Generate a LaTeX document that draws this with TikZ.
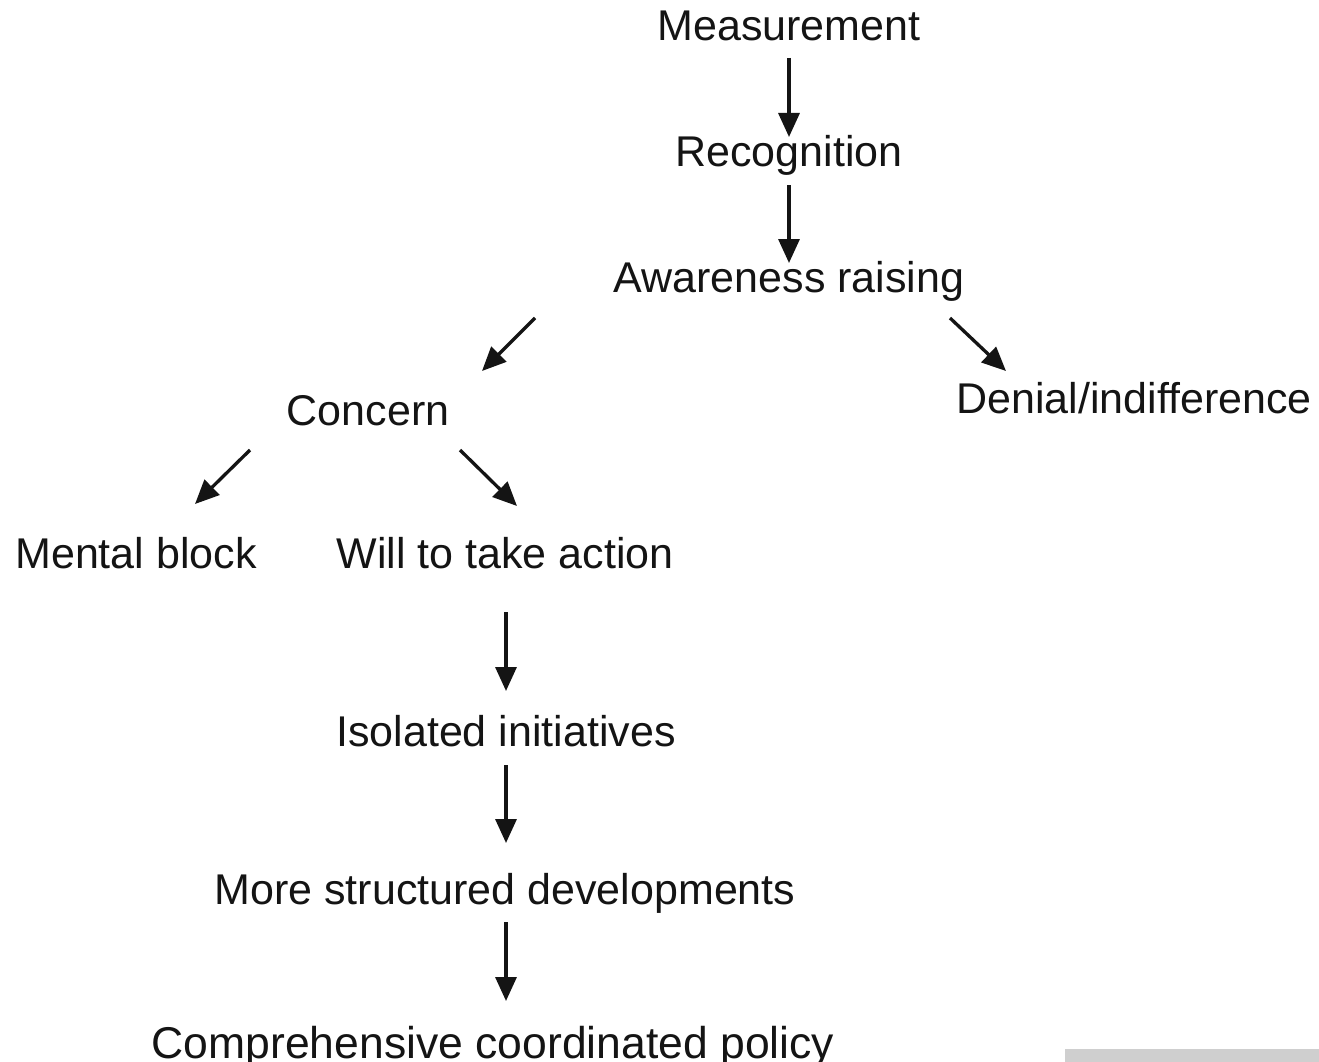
\documentclass[tikz,border=0pt]{standalone}
\usepackage{fontspec}
\setmainfont{Liberation Sans}
\usetikzlibrary{arrows.meta}
\begin{document}
\begin{tikzpicture}[x=1pt,y=-1pt,
  lbl/.style={anchor=base,inner sep=0pt,text=black!92,font=\fontsize{43}{50}\selectfont},
  arr/.style={draw=black!92,line width=3.3pt,-{Triangle[length=24pt,width=21pt]}}]
\useasboundingbox (0,0) rectangle (1319,1062);
\fill[white] (0,0) rectangle (1319,1062);

% stages of the process
\node[lbl] (meas) at (789,41) {Measurement};
\node[lbl] (reco) at (789,166) {Recognition};
\node[lbl] (aware) at (789,292) {Awareness raising};
\node[lbl] (conc) at (368,425) {Concern};
\node[lbl] (deny) at (1134,413) {Denial/indifference};
\node[lbl] (block) at (136,568) {Mental block};
\node[lbl] (will) at (505,568) {Will to take action};
\node[lbl] (isol) at (506,746) {Isolated initiatives};
\node[lbl] (struct) at (505,904) {More structured developments};
\node[lbl] (comp) at (493,1058) {\fontsize{44.5}{50}\selectfont Comprehensive coordinated policy};

% arrow end points
\coordinate (a1s) at (789,58);  \coordinate (a1e) at (789,137);
\coordinate (a2s) at (789,185); \coordinate (a2e) at (789,263);
\coordinate (a3s) at (535,318); \coordinate (a3e) at (482,371);
\coordinate (a4s) at (950,318); \coordinate (a4e) at (1006,371);
\coordinate (a5s) at (250,450); \coordinate (a5e) at (195,504);
\coordinate (a6s) at (460,450); \coordinate (a6e) at (517,506);
\coordinate (a7s) at (506,612); \coordinate (a7e) at (506,691);
\coordinate (a8s) at (506,765); \coordinate (a8e) at (506,843);
\coordinate (a9s) at (506,922); \coordinate (a9e) at (506,1001);

\draw[arr] (a1s) -- (a1e);
\draw[arr] (a2s) -- (a2e);
\draw[arr] (a3s) -- (a3e);
\draw[arr] (a4s) -- (a4e);
\draw[arr] (a5s) -- (a5e);
\draw[arr] (a6s) -- (a6e);
\draw[arr] (a7s) -- (a7e);
\draw[arr] (a8s) -- (a8e);
\draw[arr] (a9s) -- (a9e);

% grey strip along the lower right edge
\fill[black!19] (1065,1049) rectangle (1319,1062);
\end{tikzpicture}
\end{document}
